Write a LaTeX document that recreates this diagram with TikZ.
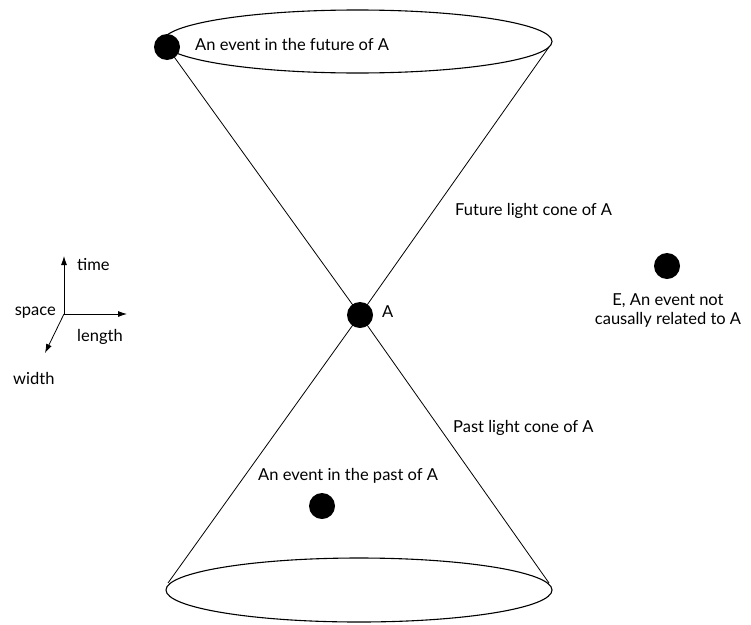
\documentclass[tikz,border=0pt]{standalone}
\usepackage{fontspec}
\setmainfont{Lato}
\usetikzlibrary{arrows.meta}
\begin{document}
\begin{tikzpicture}[x=1pt,y=-1pt,
  lbl/.style={font=\fontsize{16.5}{19}\selectfont, inner sep=0pt},
  evt/.style={circle, fill=black, inner sep=0pt, minimum size=26pt},
  cone/.style={line width=0.8pt},
  rim/.style={line width=1.1pt},
  axis/.style={line width=0.8pt, -{Latex[length=9pt,width=6pt]}}]
\useasboundingbox (0,0) rectangle (751,624);
% ellipses
\draw[rim] (357.5,41.5) ellipse [x radius=194.5, y radius=31.5];
\draw[rim] (359,590) ellipse [x radius=193, y radius=32];
% cone end points
\coordinate (tr) at (549,47);
\coordinate (bl) at (168,583);
\coordinate (br) at (549,583);
% events
\node[evt] (A) at (360,315) {};
\node[evt] (F) at (167,47) {};
\node[evt] (P) at (322,506) {};
\node[evt] (E) at (667,266) {};
% cone lines
\draw[cone] (F.center) -- (A.center) -- (br);
\draw[cone] (tr) -- (A.center) -- (bl);
% labels
\node[lbl, anchor=west] (lA) at (382,312) {A};
\node[lbl, anchor=west] (lF) at (195,44) {An event in the future of A};
\node[lbl, anchor=west] (lP) at (258,476) {An event in the past of A};
\node[lbl, anchor=west] (lFut) at (455,211) {Future light cone of A};
\node[lbl, anchor=west] (lPast) at (453,428) {Past light cone of A};
\node[lbl, align=center] (lE) at (668,310) {E, An event not\\causally related to A};
% axes
\coordinate (O) at (64,314);
\coordinate (Ot) at (64,256);
\coordinate (Ol) at (127,314);
\coordinate (Ow) at (45,353);
\draw[axis] (O) -- (Ot);
\draw[axis] (O) -- (Ol);
\draw[axis] (O) -- (Ow);
\node[lbl, anchor=west] (ltime) at (77,265) {time};
\node[lbl, anchor=east] (lspace) at (56,313) {space};
\node[lbl, anchor=west] (llen) at (77,337) {length};
\node[lbl, anchor=west] (lwid) at (13,378) {width};
\end{tikzpicture}
\end{document}
